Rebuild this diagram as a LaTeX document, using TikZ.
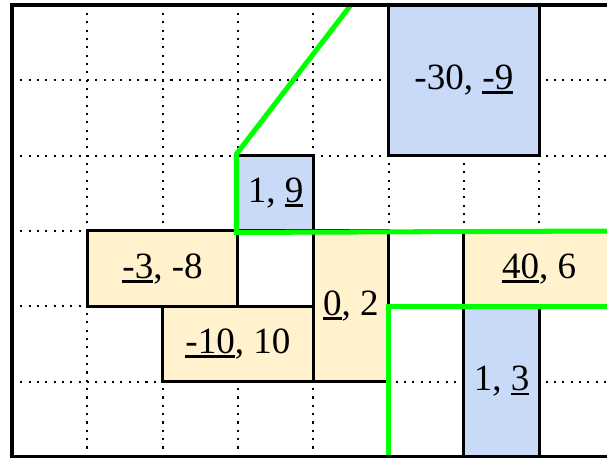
\documentclass[tikz,border=0pt]{standalone}
\usepackage{fontspec}
\setmainfont{Liberation Serif}
\definecolor{boxblue}{HTML}{C9DAF8}
\definecolor{boxyellow}{HTML}{FFF2CC}
\definecolor{cutgreen}{HTML}{00FF00}
\newcommand\ulnum[1]{\setbox0\hbox{#1}\rlap{\smash{\rule[-3.4pt]{\wd0}{2.2pt}}}\box0}
\tikzset{
  gridline/.style={line width=1.6pt, dash pattern=on 1.6pt off 4.7pt},
  cellbox/.style={draw=black, line width=2.3pt, inner sep=0pt, font=\fontsize{28}{33}\selectfont},
  bluecell/.style={cellbox, fill=boxblue},
  yellowcell/.style={cellbox, fill=boxyellow},
  cutline/.style={draw=cutgreen, line width=3.8pt},
  frameline/.style={draw=black, line width=3pt}
}
\begin{document}
\begin{tikzpicture}[x=2cm,y=2cm]
\useasboundingbox (-0.159,-0.013) rectangle (7.9,6.066);
\clip (-0.159,-0.013) rectangle (7.9,6.066);
\fill[white] (-0.159,-0.013) rectangle (7.9,6.066);
% dotted grid
\foreach \i in {1,...,7} {\draw[gridline] (\i,0) -- (\i,6);}
\foreach \j in {1,...,5} {\draw[gridline] (0,\j) -- (8,\j);}
% cells
\node[bluecell, minimum width=4cm, minimum height=4cm] (c1) at (6,5) {-30, \ulnum{-9}};
\node[bluecell, minimum width=2cm, minimum height=2cm] (c2) at (3.5,3.5) {1, \ulnum{9}};
\node[yellowcell, minimum width=4cm, minimum height=2cm] (c3) at (2,2.5) {\ulnum{-3}, -8};
\node[yellowcell, minimum width=4cm, minimum height=2cm] (c4) at (3,1.5) {\ulnum{-10}, 10};
\node[yellowcell, minimum width=2cm, minimum height=4cm] (c5) at (4.5,2) {\ulnum{0}, 2};
\node[yellowcell, minimum width=4cm, minimum height=2cm] (c6) at (7,2.5) {\ulnum{40}, 6};
\node[bluecell, minimum width=2cm, minimum height=4cm] (c7) at (6.5,1) {1, \ulnum{3}};
% green cut lines
\coordinate (g1a) at (4.5,6);
\coordinate (g1e) at (8.2,3);
\draw[cutline] (g1a) -- (c2.north west) -- (c2.south west) -- (g1e);
\coordinate (g2a) at (5,0);
\coordinate (g2b) at (5,2);
\coordinate (g2e) at (8.2,2);
\draw[cutline] (g2a) -- (g2b) -- (g2e);
% frame
\draw[frameline] (8.5,6) -- (0,6) -- (0,0) -- (8.5,0);
\end{tikzpicture}
\end{document}
